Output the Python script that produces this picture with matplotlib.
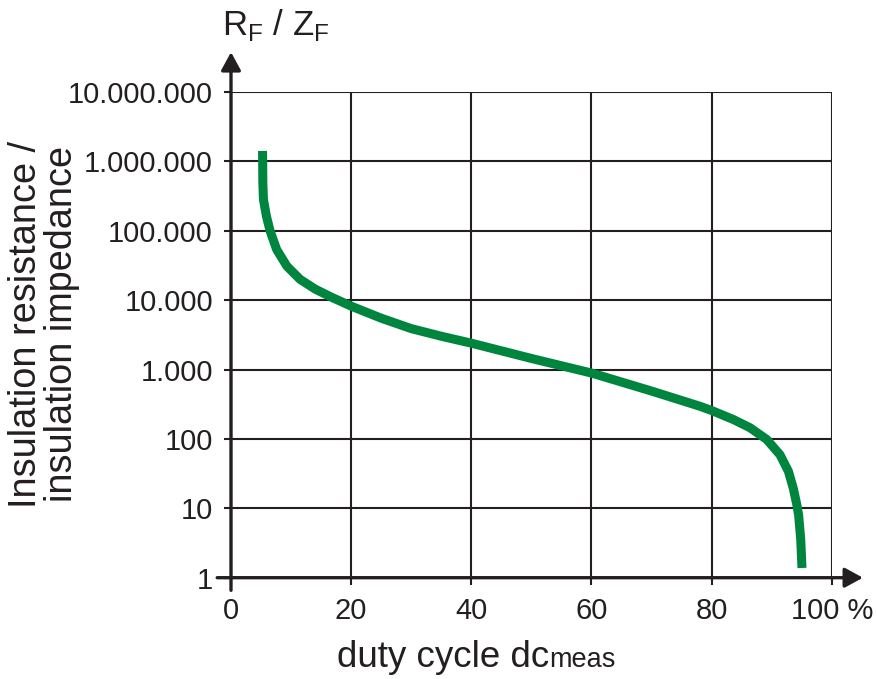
import matplotlib
matplotlib.use("Agg")
import numpy as np
from matplotlib import pyplot as plt
from matplotlib.ticker import FixedLocator, FuncFormatter, NullLocator

plt.rcParams["font.family"] = ["Liberation Sans", "DejaVu Sans"]
plt.rcParams["mathtext.fontset"] = "custom"
plt.rcParams["mathtext.rm"] = "Liberation Sans"

# duty cycle in %, insulation resistance/impedance
duty_cycle = [5.25, 5.27, 5.3, 5.4, 5.9, 6.5, 7.6, 9.3, 11.5, 14.0, 16.8, 20.1, 25,
              30, 35, 40, 50, 60, 70, 78.1, 80, 83.6, 86.4, 89.2, 91.4, 92.8, 93.6,
              94.2, 94.5, 94.85, 95.05]
resistance = [1413000, 1000000, 501000, 282000, 162000, 100000, 53700, 30900,
              19950, 14450, 10960, 8130, 5500, 3890, 3020, 2400, 1445, 891, 490,
              295, 257, 191, 145, 98, 59, 34, 19.5, 11.2, 7.9, 3.5, 1.38]

x_ticks = [0, 20, 40, 60, 80, 100]
x_labels = ["0", "20", "40", "60", "80", "100 %"]
y_ticks = [1, 10, 100, 1000, 10000, 100000, 1000000, 10000000]

dark = "#231f20"
green = "#00853f"

fig = plt.figure(figsize=(8.78, 6.79), dpi=100)
ax = fig.add_axes([231 / 878, 101.3 / 679, 600.7 / 878, 485.7 / 679])

ax.plot(duty_cycle, resistance, color=green, lw=6.5, solid_capstyle="butt",
        solid_joinstyle="round", zorder=5)

ax.set_yscale("log")
ax.set_xlim(0, 100)
ax.set_ylim(1, 1e7)
ax.xaxis.set_major_locator(FixedLocator(x_ticks))
ax.set_xticklabels(x_labels)
ax.yaxis.set_major_locator(FixedLocator(y_ticks))
ax.yaxis.set_minor_locator(NullLocator())
ax.yaxis.set_major_formatter(
    FuncFormatter(lambda v, p: f"{int(round(v)):,}".replace(",", ".")))

ax.grid(True, color=dark, lw=1.5)
ax.set_axisbelow(True)
for s in ax.spines.values():
    s.set_visible(False)
ax.tick_params(axis="both", direction="out", length=5, width=1.5, color=dark,
               labelsize=21, labelcolor=dark)
ax.tick_params(axis="y", pad=8)
ax.tick_params(axis="x", pad=9)

# axis lines with arrow heads
arr = dict(arrowstyle="-|>,head_length=0.55,head_width=0.3", lw=2.4,
           color=dark, shrinkA=0, shrinkB=0, mutation_scale=20)
ax.annotate("", xy=(0, 1.082), xytext=(0, -0.026), xycoords="axes fraction",
            textcoords="axes fraction", arrowprops=arr, zorder=6)
ax.annotate("", xy=(1.052, 0), xytext=(-0.023, 0), xycoords="axes fraction",
            textcoords="axes fraction", arrowprops=arr, zorder=6)

fig.text(222 / 878, (679 - 35) / 679, r"R$_\mathregular{F}$ / Z$_\mathregular{F}$",
         fontsize=25, color=dark, ha="left", va="baseline")

fig.text(44 / 878, (679 - 324) / 679, "Insulation resistance /\ninsulation impedance",
         rotation=90, fontsize=27.3, color=dark, ha="center", va="center",
         multialignment="center", linespacing=1.0)

t1 = fig.text(337 / 878, (679 - 667) / 679, "duty cycle dc", fontsize=26.5,
              color=dark, ha="left", va="baseline")
fig.canvas.draw()
bb = t1.get_window_extent()
fig.text(bb.x1 / fig.bbox.width, (679 - 667) / 679, "meas", fontsize=19.5,
         color=dark, ha="left", va="baseline")

fig.savefig("out.png", dpi=100)
